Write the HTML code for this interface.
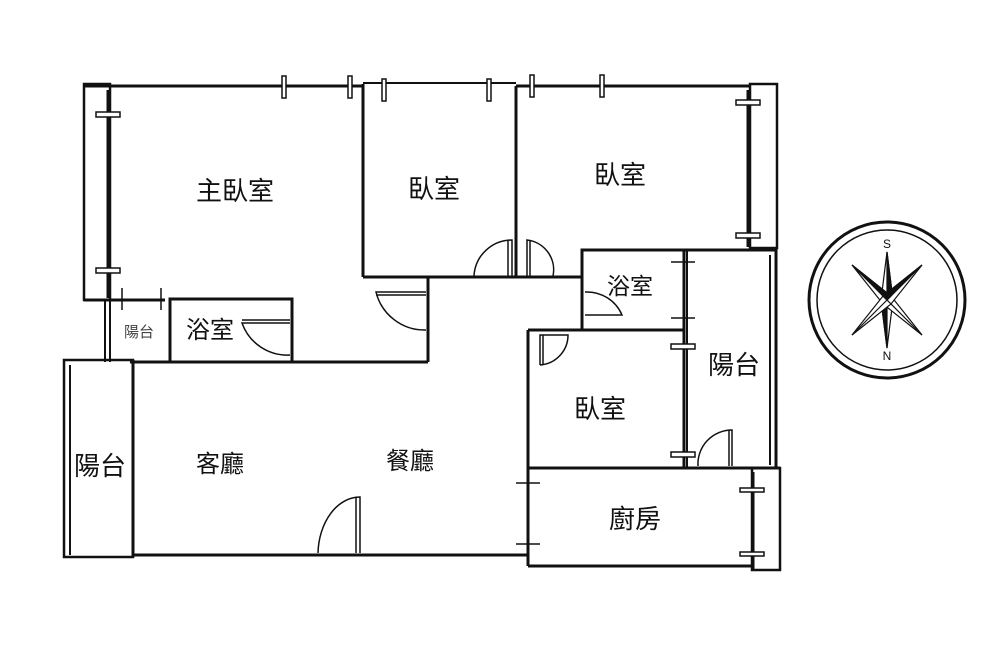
<!DOCTYPE html>
<html><head><meta charset="utf-8"><style>
html,body{margin:0;padding:0;background:#fff;width:1000px;height:664px;overflow:hidden}
text{font-family:"Liberation Sans","Noto Sans CJK TC",sans-serif;fill:#111}
</style></head><body>
<svg width="1000" height="664" viewBox="0 0 1000 664" xmlns="http://www.w3.org/2000/svg">
<g fill="none" stroke="#111" stroke-width="3">
<line x1="84" y1="86" x2="363" y2="86"/>
<line x1="363" y1="83" x2="516" y2="83" stroke-width="2"/>
<line x1="516" y1="86" x2="750" y2="86"/>
<rect x="84" y="84" width="26" height="216" stroke-width="2.5"/>
<line x1="108" y1="90" x2="108" y2="298" stroke-width="3"/>
<line x1="363" y1="84" x2="363" y2="277"/>
<line x1="516" y1="86" x2="516" y2="277"/>
<line x1="363" y1="277" x2="582" y2="277"/>
<rect x="750" y="84" width="27" height="164" stroke-width="2.5"/>
<line x1="748" y1="90" x2="748" y2="247"/>
<line x1="84" y1="300" x2="165" y2="300"/>
<rect x="170" y="299" width="122" height="63"/>
<line x1="105" y1="300" x2="105" y2="362" stroke-width="2"/>
<line x1="110" y1="300" x2="110" y2="362" stroke-width="2"/>
<line x1="428" y1="277" x2="428" y2="362"/>
<line x1="130" y1="362" x2="428" y2="362"/>
<rect x="64" y="360" width="69" height="197" stroke-width="2.5"/>
<line x1="70" y1="365" x2="70" y2="555" stroke-width="2"/>
<line x1="133" y1="360" x2="133" y2="557"/>
<line x1="133" y1="555" x2="528" y2="555"/>
<rect x="582" y="250" width="102" height="80"/>
<line x1="528" y1="330" x2="684" y2="330"/>
<line x1="528" y1="330" x2="528" y2="555"/>
<line x1="528" y1="468" x2="780" y2="468"/>
<rect x="684" y="250" width="92" height="218"/>
<line x1="687" y1="250" x2="687" y2="468" stroke-width="2"/>
<line x1="770" y1="255" x2="770" y2="465" stroke-width="2"/>
<line x1="528" y1="468" x2="528" y2="566"/>
<line x1="528" y1="566" x2="752" y2="566"/>
<rect x="752" y="468" width="28" height="102" stroke-width="2.5"/>
<line x1="753" y1="472" x2="753" y2="570"/>
</g>
<g fill="#fff" stroke="#111" stroke-width="1.5">
<rect x="282" y="76" width="4" height="22"/><rect x="348" y="76" width="4" height="22"/>
<rect x="382" y="79" width="4" height="22"/><rect x="487" y="79" width="4" height="22"/>
<rect x="530" y="75" width="4" height="22"/><rect x="600" y="75" width="4" height="22"/>
<rect x="96" y="112" width="24" height="5"/><rect x="96" y="268" width="24" height="5"/>
<rect x="736" y="100" width="24" height="5"/><rect x="736" y="233" width="24" height="5"/>
<rect x="671" y="344" width="24" height="5"/><rect x="671" y="452" width="24" height="5"/>
<rect x="740" y="488" width="24" height="4"/><rect x="740" y="552" width="24" height="4"/>
</g>
<g stroke="#111" stroke-width="1.5" fill="none">
<line x1="671" y1="262" x2="695" y2="262"/><line x1="671" y1="318" x2="695" y2="318"/>
<line x1="516" y1="483" x2="540" y2="483"/><line x1="516" y1="544" x2="540" y2="544"/>
<line x1="122" y1="288" x2="122" y2="310"/><line x1="161" y1="288" x2="161" y2="310"/>
<path d="M474 276 A38 38 0 0 1 512 240 L512 276"/><line x1="508" y1="240" x2="508" y2="276"/>
<path d="M553 276 A30 30 0 0 0 527 240 L527 276"/><line x1="530" y1="240" x2="530" y2="276"/>
<path d="M426 292 L376 292 A50 50 0 0 0 426 330"/><line x1="376" y1="295" x2="426" y2="295"/>
<path d="M290 323 L242 323 A48 48 0 0 0 290 355"/><line x1="242" y1="320" x2="290" y2="320"/>
<path d="M585 315 L622 315 A38 38 0 0 0 585 292"/>
<path d="M540 365 L540 335 L568 335 A30 30 0 0 1 540 365"/><line x1="543" y1="335" x2="543" y2="365"/>
<path d="M698 466 A34 34 0 0 1 732 430 L732 466"/><line x1="729" y1="430" x2="729" y2="466"/>
<path d="M318 553 A42 58 0 0 1 360 497 L360 553"/><line x1="356" y1="497" x2="356" y2="553"/>
</g>
<text x="235" y="200" font-size="26" text-anchor="middle">主臥室</text>
<text x="434" y="198" font-size="26" text-anchor="middle">臥室</text>
<text x="620" y="184" font-size="26" text-anchor="middle">臥室</text>
<text x="630" y="294" font-size="23" text-anchor="middle">浴室</text>
<text x="210" y="338" font-size="24" text-anchor="middle">浴室</text>
<text x="139" y="337" font-size="15" text-anchor="middle" style="fill:#444">陽台</text>
<text x="734" y="374" font-size="26" text-anchor="middle">陽台</text>
<text x="600" y="418" font-size="26" text-anchor="middle">臥室</text>
<text x="100" y="475" font-size="26" text-anchor="middle">陽台</text>
<text x="220" y="472" font-size="24" text-anchor="middle">客廳</text>
<text x="410" y="469" font-size="24" text-anchor="middle">餐廳</text>
<text x="635" y="528" font-size="26" text-anchor="middle">廚房</text>
<circle cx="887" cy="300" r="78" fill="none" stroke="#111" stroke-width="3"/>
<circle cx="887" cy="300" r="70" fill="none" stroke="#111" stroke-width="1.5"/>
<g stroke="#111" stroke-width="1.2">
<polygon points="887,252 893,300 887,348 881,300" fill="#fff"/>
<polygon points="887,252 893,300 887,300" fill="#111"/>
<polygon points="887,348 881,300 887,300" fill="#111"/>
<polygon points="852,265 891,296 922,335 883,304" fill="#fff"/>
<polygon points="922,265 891,304 852,335 883,296" fill="#fff"/>
<polygon points="852,265 891,296 887,300" fill="#111"/>
<polygon points="922,265 883,296 887,300" fill="#111"/>
<polygon points="852,335 883,304 887,300" fill="#111"/>
<polygon points="922,335 891,304 887,300" fill="#111"/>
</g>
<text x="887" y="248" font-size="12" text-anchor="middle">S</text>
<text x="887" y="360" font-size="12" text-anchor="middle">N</text>
</svg>
</body></html>
